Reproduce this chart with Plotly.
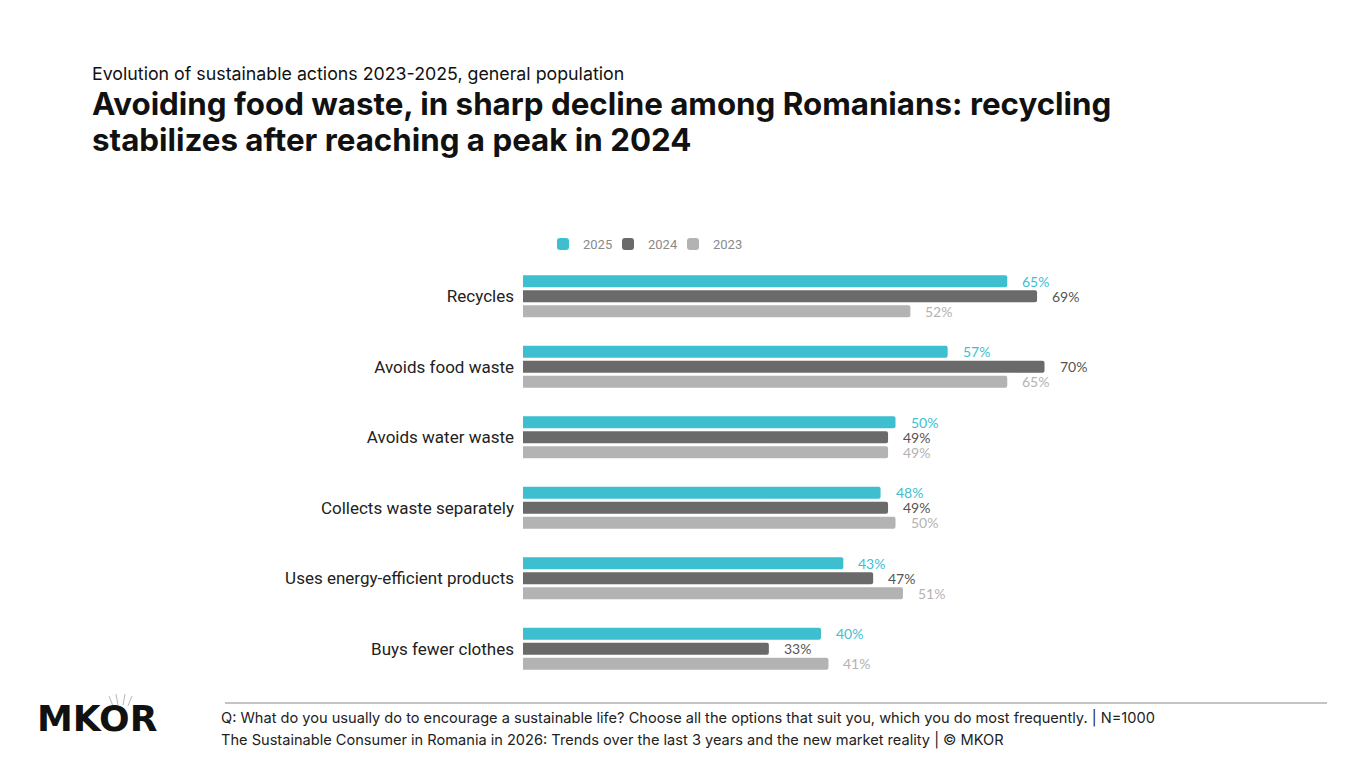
import plotly.graph_objects as go

categories = ["Recycles", "Avoids food waste", "Avoids water waste",
              "Collects waste separately", "Uses energy-efficient products", "Buys fewer clothes"]
years = ["2025", "2024", "2023"]
v2025 = [65, 57, 50, 48, 43, 40]
v2024 = [69, 70, 49, 49, 47, 33]
v2023 = [52, 65, 49, 50, 51, 41]
series = [v2025, v2024, v2023]

bar_colors = ["#3DBFD0", "#6A6A6A", "#B3B3B3"]
text_colors = ["#3DBFD0", "#555555", "#B3B3B3"]

W, H = 1365, 768
ML, MR, MT, MB = 523, 97, 261, 84
PW, PH = W - ML - MR, H - MT - MB

def px(x):
    return (x - ML) / PW

def py(y):
    return (H - MB - y) / PH

legend_ids = ["legend", "legend2", "legend3"]
legend_x = [543, 608, 673]

fig = go.Figure()
for name, vals, col, lid in zip(years, series, bar_colors, legend_ids):
    fig.add_trace(go.Bar(
        y=categories, x=vals, name=name, orientation="h", legend=lid,
        marker=dict(color=col, cornerradius=2, line=dict(width=0)),
        hoverinfo="x+y+name",
    ))

annotations = []
shifts = [15, 0, -15]
for vals, tcol, ys in zip(series, text_colors, shifts):
    for c, v in zip(categories, vals):
        annotations.append(dict(
            x=v, y=c, xref="x", yref="y", text=f"{v}%", showarrow=False,
            xanchor="left", yanchor="middle", xshift=13, yshift=ys,
            font=dict(family="Lato", size=14, color=tcol),
        ))

def txt(x, y, text, family, size, color, bold=False):
    annotations.append(dict(
        x=px(x), y=py(y), xref="paper", yref="paper", xanchor="left", yanchor="middle",
        text=f"<b>{text}</b>" if bold else text, showarrow=False,
        font=dict(family=family, size=size, color=color),
    ))

# subtitle and title
txt(90, 74, "Evolution of sustainable actions 2023-2025, general population", "Inter", 17.8, "#111111")
txt(90, 104, "Avoiding food waste, in sharp decline among Romanians: recycling", "Inter", 31.3, "#111111", True)
txt(90, 140, "stabilizes after reaching a peak in 2024", "Inter", 31.3, "#111111", True)
# footer
txt(219, 718, "Q: What do you usually do to encourage a sustainable life? Choose all the options that suit you, which you do most frequently. | N=1000",
    "Inter", 14.6, "#222222")
txt(219, 740, "The Sustainable Consumer in Romania in 2026: Trends over the last 3 years and the new market reality | © MKOR",
    "Inter", 14.6, "#222222")
# logo
txt(35, 718, "MKOR", "DejaVu Sans", 36, "#111111", True)

shapes = [dict(type="line", xref="paper", yref="paper", x0=px(225), x1=px(1327),
               y0=py(703), y1=py(703), line=dict(color="#8A8A8A", width=1.2))]
# small crown above the O of the logo (decoration)
for (x0, y0, x1, y1) in [(113, 706, 109, 696), (118, 705, 116, 694), (123, 705, 125, 694), (128, 706, 132, 696)]:
    shapes.append(dict(type="line", xref="paper", yref="paper", x0=px(x0), x1=px(x1),
                       y0=py(y0), y1=py(y1), line=dict(color="#B8B8B8", width=1)))

legend_style = dict(orientation="h", xanchor="left", yanchor="middle", y=py(244),
                    font=dict(family="Roboto", size=13, color="#8A8A8A"),
                    bgcolor="rgba(0,0,0,0)")

fig.update_layout(
    width=W, height=H,
    margin=dict(l=ML, r=MR, t=MT, b=MB),
    paper_bgcolor="white", plot_bgcolor="white",
    barmode="group", bargap=0.3625, bargroupgap=0.2,
    xaxis=dict(range=[0, 100], visible=False, fixedrange=True),
    yaxis=dict(autorange="reversed", showgrid=False, zeroline=False, showline=False,
               ticks="", ticklabelstandoff=8,
               tickfont=dict(family="Roboto", size=17, color="#222222")),
    legend=dict(x=px(legend_x[0]), **legend_style),
    legend2=dict(x=px(legend_x[1]), **legend_style),
    legend3=dict(x=px(legend_x[2]), **legend_style),
    annotations=annotations, shapes=shapes,
    showlegend=True,
)

fig.write_html("out.html")
